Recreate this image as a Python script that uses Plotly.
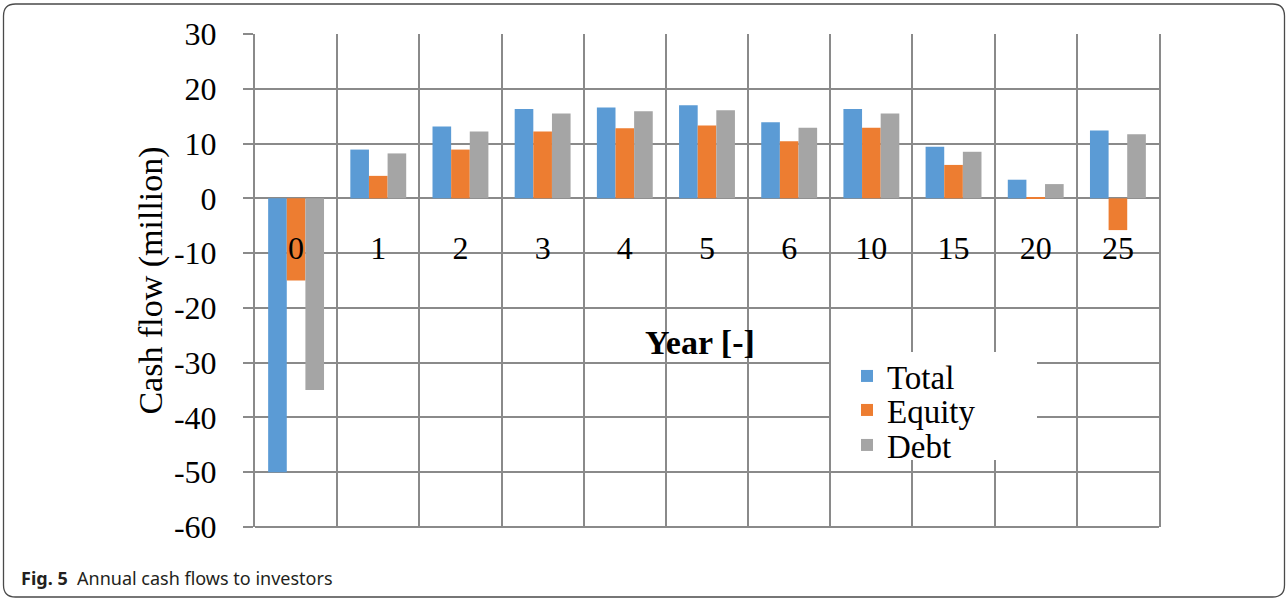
import plotly.graph_objects as go

# ---------------- data ----------------
years = ["0", "1", "2", "3", "4", "5", "6", "10", "15", "20", "25"]
total = [-50, 8.9, 13.1, 16.3, 16.6, 17.0, 13.9, 16.3, 9.4, 3.4, 12.4]
equity = [-15, 4.1, 8.9, 12.2, 12.8, 13.3, 10.4, 12.9, 6.1, 0.2, -5.8]
debt = [-35, 8.2, 12.2, 15.5, 15.9, 16.1, 12.9, 15.5, 8.5, 2.6, 11.7]
y_tickvals = [-60, -50, -40, -30, -20, -10, 0, 10, 20, 30]
y_ticktext = ["-60", "-50", "-40", "-30", "-20", "-10", "0", "10", "20", "30"]
series_names = ["Total", "Equity", "Debt"]

# ---------------- layout geometry ----------------
W, H = 1288, 600
ML, MR, MT, MB = 255, 129, 34, 73
PW, PH = W - ML - MR, H - MT - MB
Y_MIN, Y_MAX = -60, 30


def fx(p):
    return (p - ML) / PW


def fy(p):
    return 1 - (p - MT) / PH


GRID = "#8a8a8a"
SERIF = "Liberation Serif, Times New Roman, serif"
colors = ["#5B9BD5", "#ED7D31", "#A5A5A5"]

fig = go.Figure()
legends = ["legend", "legend2", "legend3"]
for name, vals, col, lg in zip(series_names, [total, equity, debt], colors, legends):
    fig.add_trace(go.Bar(x=years, y=vals, name=name, marker_color=col,
                         marker_line_width=0, legend=lg))

leg_centers = [376, 410, 445]
leg_common = dict(xanchor="left", yanchor="middle", bgcolor="rgba(0,0,0,0)",
                  borderwidth=0, font=dict(family=SERIF, size=33, color="black"))

fig.update_layout(
    width=W, height=H,
    margin=dict(l=ML, r=MR, t=MT, b=MB, autoexpand=False),
    paper_bgcolor="white", plot_bgcolor="white",
    barmode="group", bargap=0.32, bargroupgap=0,
    font=dict(family=SERIF, color="black"),
    showlegend=True,
    legend=dict(x=fx(847), y=fy(leg_centers[0]), **leg_common),
    legend2=dict(x=fx(847), y=fy(leg_centers[1]), **leg_common),
    legend3=dict(x=fx(847), y=fy(leg_centers[2]), **leg_common),
    xaxis=dict(
        type="category", tickson="boundaries", showgrid=True,
        gridcolor=GRID, gridwidth=2, ticks="", showline=False,
        anchor="free", position=(0 - Y_MIN) / (Y_MAX - Y_MIN),
        tickfont=dict(family=SERIF, size=32, color="black"),
        ticklabelstandoff=28, zeroline=False,
    ),
    yaxis=dict(
        range=[Y_MIN, Y_MAX], tickvals=y_tickvals, ticktext=y_ticktext,
        showgrid=True, gridcolor=GRID, gridwidth=2,
        zeroline=True, zerolinecolor=GRID, zerolinewidth=2,
        showline=True, linecolor=GRID, linewidth=2, mirror=True,
        ticks="outside", ticklen=10, tickwidth=2, tickcolor=GRID,
        tickfont=dict(family=SERIF, size=32, color="black"),
        ticklabelstandoff=20,
        title=dict(text="Cash flow (million)", standoff=1,
                   font=dict(family=SERIF, size=34, color="black")),
    ),
)

# bottom border of the plot area (grid line at the axis minimum)
fig.add_shape(type="line", xref="paper", yref="paper", x0=0, x1=1, y0=0, y1=0,
              line=dict(color=GRID, width=2), layer="below")

# white backing box behind the legend (covers grid lines, as in the original)
fig.add_shape(type="rect", xref="paper", yref="paper",
              x0=fx(831), x1=fx(1037), y0=fy(460), y1=fy(352),
              fillcolor="white", line=dict(width=0), layer="above")

# x-axis title (sits inside the plot, over the grid)
fig.add_annotation(text="<b>Year [-]</b>", xref="paper", yref="paper",
                   x=fx(700), y=fy(342), xanchor="center", yanchor="middle",
                   showarrow=False, font=dict(family=SERIF, size=34, color="black"))

# caption
fig.add_annotation(text="<b>Fig. 5</b>\u00a0\u00a0Annual cash flows to investors",
                   xref="paper", yref="paper", x=fx(19), y=fy(578),
                   xanchor="left", yanchor="middle", showarrow=False,
                   font=dict(family="Noto Sans, Open Sans, sans-serif", size=18, color="#231f20"))

# rounded outer frame
x0, x1, y0, y1, r = 3.5, 1284.5, 4, 597, 12
rx, ry = r / PW, r / PH
X0, X1, Y0, Y1 = fx(x0), fx(x1), fy(y0), fy(y1)
path = (f"M{X0 + rx},{Y0} L{X1 - rx},{Y0} Q{X1},{Y0} {X1},{Y0 - ry} "
        f"L{X1},{Y1 + ry} Q{X1},{Y1} {X1 - rx},{Y1} "
        f"L{X0 + rx},{Y1} Q{X0},{Y1} {X0},{Y1 + ry} "
        f"L{X0},{Y0 - ry} Q{X0},{Y0} {X0 + rx},{Y0} Z")
fig.add_shape(type="path", path=path, xref="paper", yref="paper",
              line=dict(color="#4a4a4a", width=1.3), layer="above")

fig.write_html("out.html", config={"displayModeBar": False},
               post_script="document.body.style.margin='0';"
                           "document.body.style.overflow='hidden';")
